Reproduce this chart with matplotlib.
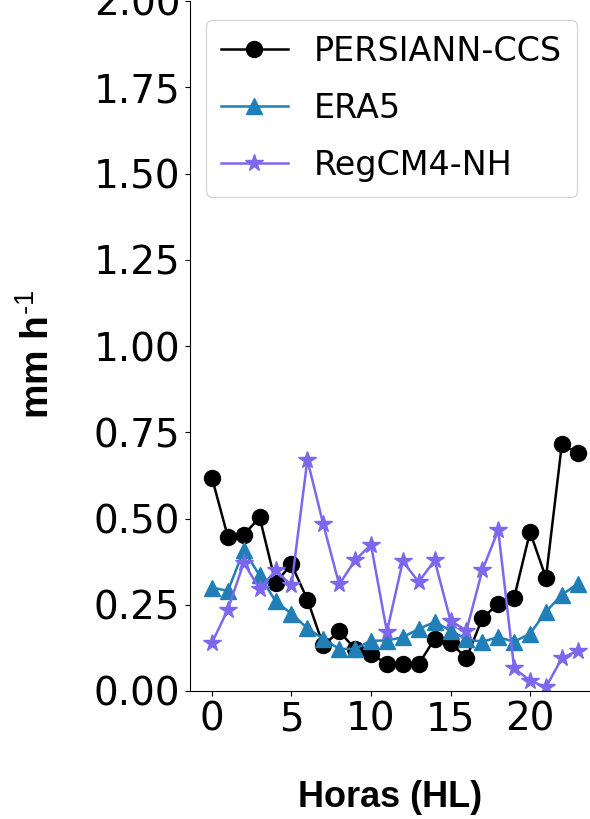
import matplotlib
matplotlib.use("Agg")
import matplotlib.pyplot as plt
import numpy as np

horas = np.arange(24)

persiann = [0.618, 0.447, 0.453, 0.503, 0.314, 0.367, 0.265, 0.132, 0.173, 0.122,
            0.108, 0.078, 0.078, 0.078, 0.151, 0.140, 0.095, 0.211, 0.253, 0.270,
            0.461, 0.328, 0.715, 0.689]
era5 = [0.300, 0.290, 0.408, 0.335, 0.260, 0.224, 0.182, 0.151, 0.122, 0.122,
        0.146, 0.146, 0.156, 0.180, 0.200, 0.175, 0.150, 0.143, 0.156, 0.143,
        0.166, 0.230, 0.279, 0.311]
regcm = [0.140, 0.236, 0.372, 0.295, 0.350, 0.306, 0.670, 0.483, 0.309, 0.379,
         0.424, 0.172, 0.376, 0.316, 0.379, 0.204, 0.175, 0.350, 0.466, 0.066,
         0.030, 0.011, 0.095, 0.117]

yticks = [0.0, 0.25, 0.5, 0.75, 1.0, 1.25, 1.5, 1.75, 2.0]
xticks = [0, 5, 10, 15, 20]

plt.rcParams["mathtext.fontset"] = "custom"
plt.rcParams["mathtext.rm"] = "Liberation Sans"

fig = plt.figure(figsize=(5.9, 8.19), dpi=100)
axe = fig.add_axes([190 / 590, 128 / 819, 400 / 590, 690 / 819])

axe.plot(horas, persiann, "-o", c="black", lw=1.8, markersize=11.5, label="PERSIANN-CCS")
axe.plot(horas, era5, "-^", c="#1f7fb6", lw=1.8, markersize=11.5, label="ERA5")
axe.plot(horas, regcm, "-*", c="mediumslateblue", lw=1.8, markersize=13, label="RegCM4-NH")

axe.set_xlim(-1.38, 23.77)
axe.set_ylim(0, 2.0)
axe.set_yticks(yticks)
axe.set_xticks(xticks)
axe.tick_params(labelsize=28)
axe.spines["top"].set_visible(False)
axe.spines["right"].set_visible(False)

axe.set_xlabel("Horas (HL)", fontsize=26, fontweight="bold", family="Liberation Sans", labelpad=30)
axe.set_ylabel("mm h$^{\\mathrm{\\text{-1}}}$", fontsize=28, fontweight="bold",
               family="Liberation Sans")
axe.yaxis.set_label_coords(-0.333, 0.487)

axe.legend(loc="upper right", bbox_to_anchor=(1.01, 0.997), fontsize=24,
           handlelength=2.0, borderpad=0.45, labelspacing=0.72)

fig.savefig("out.png", dpi=100)
